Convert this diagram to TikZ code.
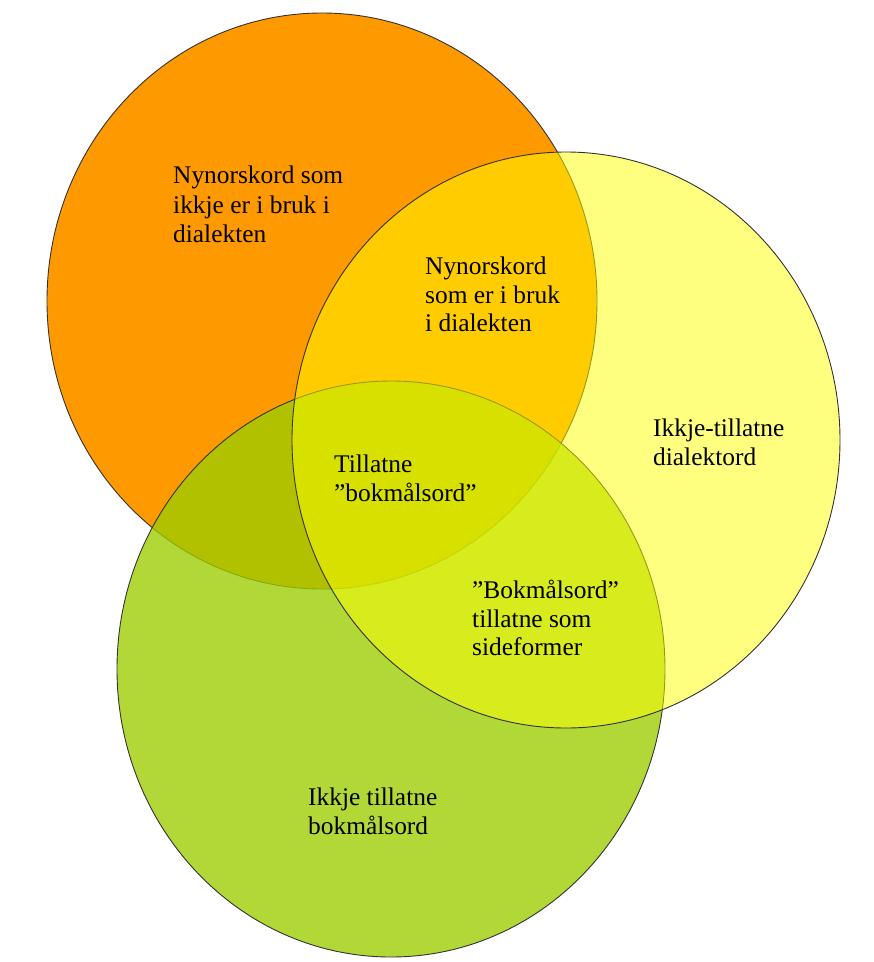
\documentclass[tikz,border=0pt]{standalone}
\usepackage{fontspec}
\setmainfont{Liberation Serif}
\usepackage{tikz}
\usetikzlibrary{shapes.geometric}
\usepackage{xcolor}
\definecolor{orangevenn}{RGB}{255,153,0}
\definecolor{greenvenn}{RGB}{156,205,0}
\definecolor{yellowvenn}{RGB}{255,255,0}

\begin{document}
\begin{tikzpicture}[x=1pt, y=-1pt,
    venn/.style={ellipse, draw=black!80, line width=0.9pt, inner sep=0pt, outer sep=0pt,
                 minimum width=548pt, minimum height=576pt},
    venntext/.style={anchor=north west, align=left, inner sep=0pt, text=black,
                     font=\fontsize{25.4}{28.5}\selectfont}]
    \useasboundingbox (0,0) rectangle (874,962);
    % the three sets
    \node[venn, fill=orangevenn, minimum width=550pt] (nynorsk) at (322,301) {};
    \node[venn, fill=greenvenn, fill opacity=0.78] (bokmaal) at (391,669) {};
    \node[venn, fill=yellowvenn, fill opacity=0.5] (dialekt) at (566,440) {};
    % labels
    \node[venntext, font=\fontsize{25.4}{29.5}\selectfont] (nynorskonly) at (173,166) {Nynorskord som\\ikkje er i bruk i\\dialekten};
    \node[venntext] (nynorskdial) at (425,257) {Nynorskord\\som er i bruk\\i dialekten};
    \node[venntext] (dialektonly) at (653,419) {Ikkje-tillatne\\dialektord};
    \node[venntext] (tillatne) at (334,455) {Tillatne\\”bokmålsord”};
    \node[venntext] (sideformer) at (472,580) {”Bokmålsord”\\tillatne som\\sideformer};
    \node[venntext] (bokmaalonly) at (308,788) {Ikkje tillatne\\bokmålsord};
\end{tikzpicture}
\end{document}
